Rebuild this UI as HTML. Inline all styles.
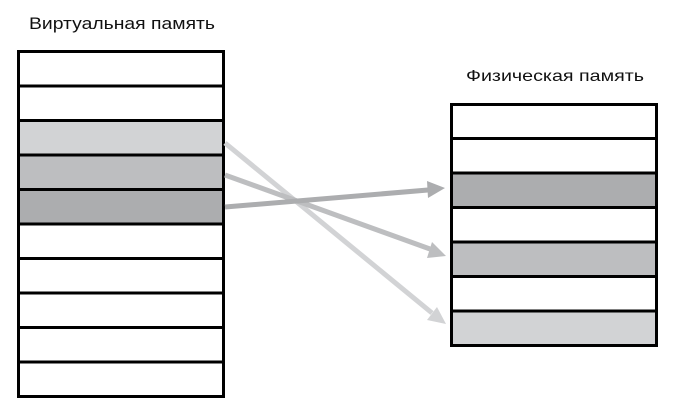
<!DOCTYPE html>
<html><head><meta charset="utf-8"><style>html,body{margin:0;padding:0;background:#fff}svg{display:block}</style></head>
<body>
<svg width="676" height="412" viewBox="0 0 676 412" xmlns="http://www.w3.org/2000/svg">
<text x="29" y="29" font-family="Liberation Sans, sans-serif" font-size="17" fill="#111" textLength="186" lengthAdjust="spacingAndGlyphs">Виртуальная память</text>
<text x="466" y="81" font-family="Liberation Sans, sans-serif" font-size="16" fill="#111" textLength="178" lengthAdjust="spacingAndGlyphs">Физическая память</text>
<!-- left column -->
<g stroke="#000" stroke-width="3">
<rect x="18.5" y="51.5" width="205" height="34.5" fill="#fff"/>
<rect x="18.5" y="86" width="205" height="34.5" fill="#fff"/>
<rect x="18.5" y="120.5" width="205" height="34.5" fill="#d2d3d5"/>
<rect x="18.5" y="155" width="205" height="34.5" fill="#bdbec0"/>
<rect x="18.5" y="189.5" width="205" height="34.5" fill="#acadaf"/>
<rect x="18.5" y="224" width="205" height="34.5" fill="#fff"/>
<rect x="18.5" y="258.5" width="205" height="34.5" fill="#fff"/>
<rect x="18.5" y="293" width="205" height="34.5" fill="#fff"/>
<rect x="18.5" y="327.5" width="205" height="34.5" fill="#fff"/>
<rect x="18.5" y="362" width="205" height="34.5" fill="#fff"/>
</g>
<!-- right column -->
<g stroke="#000" stroke-width="3">
<rect x="451.5" y="104.5" width="205" height="34" fill="#fff"/>
<rect x="451.5" y="138.5" width="205" height="34.5" fill="#fff"/>
<rect x="451.5" y="173" width="205" height="34.5" fill="#acadaf"/>
<rect x="451.5" y="207.5" width="205" height="34.5" fill="#fff"/>
<rect x="451.5" y="242" width="205" height="34.5" fill="#bdbec0"/>
<rect x="451.5" y="276.5" width="205" height="34.5" fill="#fff"/>
<rect x="451.5" y="311" width="205" height="34.5" fill="#d2d3d5"/>
</g>
<!-- arrows -->
<g stroke-width="5" fill="none">
<line x1="225" y1="143" x2="432" y2="313" stroke="#d2d3d5"/>
<line x1="225" y1="175" x2="430" y2="249" stroke="#bdbec0"/>
<line x1="225" y1="207" x2="428" y2="190" stroke="#acadaf"/>
</g>
<polygon points="446,324 427,320 437,307" fill="#d2d3d5"/>
<polygon points="446,256 427,258 432,242" fill="#bdbec0"/>
<polygon points="445,188 428,198 427,181" fill="#acadaf"/>
</svg>
</body></html>
